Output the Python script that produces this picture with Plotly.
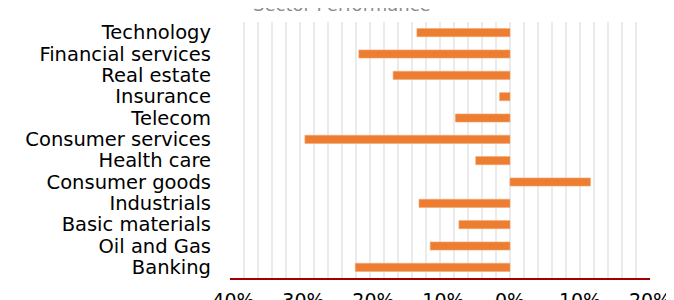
import plotly.graph_objects as go

categories = ["Technology", "Financial services", "Real estate", "Insurance", "Telecom",
              "Consumer services", "Health care", "Consumer goods", "Industrials",
              "Basic materials", "Oil and Gas", "Banking"]
performance = [-0.133, -0.216, -0.167, -0.015, -0.078, -0.293, -0.049, 0.115,
               -0.130, -0.073, -0.114, -0.221]
tick_values = [-0.4, -0.3, -0.2, -0.1, 0.0, 0.1, 0.2]
tick_labels = ["-40%", "-30%", "-20%", "-10%", "0%", "10%", "20%"]

FONT = "DejaVu Sans"

fig = go.Figure(go.Bar(
    x=performance, y=categories, orientation="h",
    marker=dict(color="#ED7D31", line=dict(color="#F4A774", width=0.6)),
))

fig.update_layout(
    width=666, height=292,
    margin=dict(l=222, r=24, t=14, b=22, autoexpand=False),
    paper_bgcolor="white", plot_bgcolor="white",
    bargap=0.62, showlegend=False,
    font=dict(family=FONT, size=18, color="#000000"),
    annotations=[dict(text="Sector Performance", xref="paper", yref="paper",
                      x=0.267, xanchor="center", y=1.0, yshift=30, showarrow=False,
                      font=dict(family=FONT, size=18, color="#8C8C8C"))],
)
fig.update_xaxes(
    range=[-0.4, 0.2], tickvals=tick_values, ticktext=tick_labels,
    showgrid=True, gridcolor="#EBEBEB", gridwidth=1.5,
    minor=dict(dtick=0.02, tick0=0, showgrid=True, gridcolor="#EBEBEB", gridwidth=1.5),
    zeroline=False, showline=True, linecolor="#A00000", linewidth=1.5,
    ticks="", ticklabelstandoff=4, automargin=False,
    tickfont=dict(family=FONT, size=19, color="#000000"),
)
fig.update_yaxes(
    autorange="reversed", showgrid=False, zeroline=False, showline=False,
    tickmode="array", tickvals=categories, ticktext=categories,
    ticks="", ticklabelstandoff=18, automargin=False,
    tickfont=dict(family=FONT, size=19.5, color="#000000"),
)

fig.write_html("out.html")
